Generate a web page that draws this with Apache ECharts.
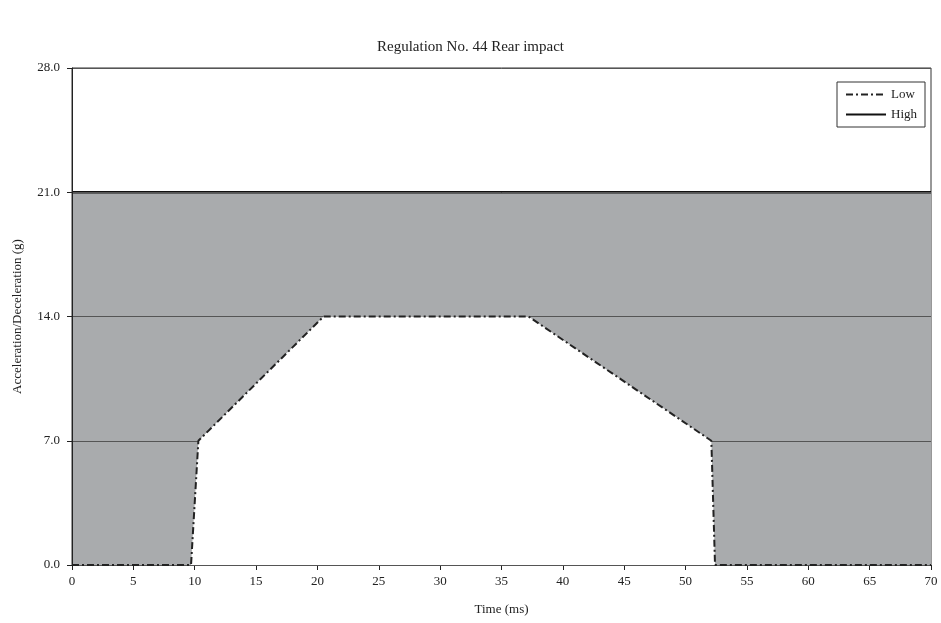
<!DOCTYPE html>
<html>
<head>
<meta charset="utf-8">
<script src="https://cdn.jsdelivr.net/npm/echarts@6/dist/echarts.min.js"></script>
<style>
  html, body { margin: 0; padding: 0; background: #fff; }
  #chart { width: 941px; height: 623px; }
</style>
</head>
<body>
<div id="chart"></div>
<script>
// corridor (time in ms, acceleration in g)
var lowTime = [0, 9.7, 10.3, 20.5, 37.2, 52.1, 52.4, 70];
var lowAcc = [0, 0, 7, 14, 14, 7, 0, 0];
var highTime = [0, 70];
var highAcc = [21, 21];
var yTicks = [0, 7, 14, 21, 28];

var font = 'Liberation Serif';
var chart = echarts.init(document.getElementById('chart'));

function pairs(xs, ys) {
  return xs.map(function (x, i) { return [x, ys[i]]; });
}

chart.setOption({
  animation: false,
  textStyle: { fontFamily: font, color: '#222' },
  title: {
    text: 'Regulation No. 44 Rear impact',
    left: 'center',
    top: 35,
    textStyle: { fontFamily: font, fontSize: 15, fontWeight: 'normal', color: '#222' }
  },
  legend: {
    orient: 'vertical',
    right: 16,
    top: 82,
    itemWidth: 40,
    itemHeight: 10,
    itemGap: 7,
    padding: [6, 8, 6, 8],
    borderColor: '#333',
    borderWidth: 1,
    backgroundColor: '#fff',
    itemStyle: { opacity: 0 },
    textStyle: { fontFamily: font, fontSize: 13, color: '#222' },
    data: ['Low', 'High']
  },
  grid: {
    left: 72, right: 10, top: 68, bottom: 58,
    outerBoundsMode: 'none',
    show: true, borderColor: '#333', borderWidth: 1
  },
  xAxis: {
    type: 'value',
    min: 0, max: 70, interval: 5,
    name: 'Time (ms)',
    nameLocation: 'middle',
    nameGap: 38,
    nameTextStyle: { fontFamily: font, fontSize: 13, color: '#222' },
    axisLine: { lineStyle: { color: '#222' } },
    axisTick: { inside: false, length: 5, lineStyle: { color: '#222' } },
    axisLabel: { fontFamily: font, fontSize: 13, color: '#222', margin: 10 },
    splitLine: { show: false }
  },
  yAxis: {
    type: 'value',
    min: 0, max: 28, interval: 7,
    z: 5,
    name: 'Acceleration/Deceleration (g)',
    nameLocation: 'middle',
    nameGap: 48,
    nameTextStyle: { fontFamily: font, fontSize: 13, color: '#222' },
    axisLine: { show: true, lineStyle: { color: '#222' } },
    axisTick: { show: true, length: 5, lineStyle: { color: '#222' } },
    axisLabel: {
      fontFamily: font, fontSize: 13, color: '#222', margin: 12,
      formatter: function (v) { return yTicks.indexOf(v) >= 0 ? v.toFixed(1) : ''; }
    },
    splitLine: { show: true, lineStyle: { color: '#555', width: 1 } }
  },
  series: [
    {
      name: 'High',
      type: 'line',
      data: pairs(highTime, highAcc),
      symbol: 'none',
      z: 2,
      lineStyle: { color: '#111', width: 2.5 },
      itemStyle: { color: '#111' },
      areaStyle: { color: '#a9abad', opacity: 1, origin: 'start' }
    },
    {
      name: 'Low',
      type: 'line',
      data: pairs(lowTime, lowAcc),
      symbol: 'none',
      z: 6,
      lineStyle: { color: '#222', width: 2, type: [7, 3, 2, 3] },
      itemStyle: { color: '#222' },
      areaStyle: { color: '#fff', opacity: 1, origin: 'start' }
    }
  ]
});
</script>
</body>
</html>
